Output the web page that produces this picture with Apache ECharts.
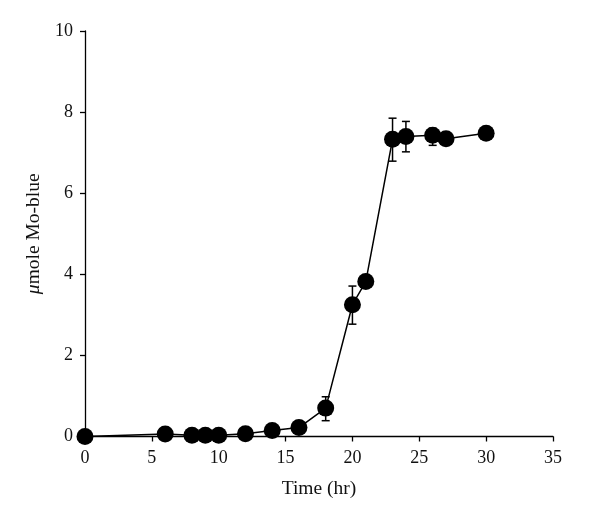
<!DOCTYPE html>
<html>
<head>
<meta charset="utf-8">
<script src="https://cdn.jsdelivr.net/npm/echarts@6/dist/echarts.min.js"></script>
<style>html,body{margin:0;padding:0;background:#fff}#c{width:600px;height:522px}</style>
</head>
<body>
<div id="c"></div>
<script>
const times = [0, 6, 8, 9, 10, 12, 14, 16, 18, 20, 21, 23, 24, 26, 27, 30];
const moBlue = [0, 0.06, 0.03, 0.03, 0.03, 0.07, 0.15, 0.22, 0.7, 3.25, 3.82, 7.33, 7.4, 7.43, 7.34, 7.48];
const errTimes = [18, 20, 23, 24, 26];
const errLow = [0.39, 2.77, 6.79, 7.02, 7.18];
const errHigh = [0.98, 3.71, 7.85, 7.77, 7.6];
const xTicks = [0, 5, 10, 15, 20, 25, 30, 35];
const yTicks = [0, 2, 4, 6, 8, 10];

const chart = echarts.init(document.getElementById('c'), null, {renderer: 'canvas'});
const font = '"Liberation Serif", "DejaVu Serif", serif';
const lineData = times.map((t, i) => [t, moBlue[i]]);
const errData = errTimes.map((t, i) => [t, errLow[i], errHigh[i]]);

chart.setOption({
  backgroundColor: '#fff',
  animation: false,
  grid: {left: 85, right: 47, top: 31, bottom: 85.5},
  xAxis: {
    type: 'value', min: 0, max: 35, interval: 5,
    name: 'Time (hr)', nameLocation: 'middle', nameGap: 42,
    nameTextStyle: {fontFamily: font, fontSize: 19.5, color: '#111'},
    axisLine: {onZero: false, lineStyle: {color: '#000', width: 1.3}},
    axisTick: {show: true, inside: false, length: 5, lineStyle: {color: '#000', width: 1.3}},
    axisLabel: {fontFamily: font, fontSize: 18, color: '#111', margin: 13},
    splitLine: {show: false}
  },
  yAxis: {
    type: 'value', min: 0, max: 10, interval: 2,
    name: '{i|μ}mole Mo-blue', nameLocation: 'middle', nameGap: 40,
    nameTextStyle: {fontFamily: font, fontSize: 19.5, color: '#111',
      rich: {i: {fontFamily: font, fontSize: 19.5, fontStyle: 'italic', color: '#111'}}},
    axisLine: {show: true, lineStyle: {color: '#000', width: 1.3}},
    axisTick: {show: true, inside: false, length: 5, lineStyle: {color: '#000', width: 1.3}},
    axisLabel: {fontFamily: font, fontSize: 18, color: '#111', margin: 12},
    splitLine: {show: false}
  },
  series: [
    {
      type: 'custom',
      data: errData,
      z: 1,
      renderItem: function (params, api) {
        const x = api.value(0);
        const lo = api.coord([x, api.value(1)]);
        const hi = api.coord([x, api.value(2)]);
        const w = 4;
        const st = {stroke: '#000', lineWidth: 1.5};
        return {
          type: 'group',
          children: [
            {type: 'line', shape: {x1: lo[0], y1: lo[1], x2: hi[0], y2: hi[1]}, style: st},
            {type: 'line', shape: {x1: lo[0] - w, y1: lo[1], x2: lo[0] + w, y2: lo[1]}, style: st},
            {type: 'line', shape: {x1: hi[0] - w, y1: hi[1], x2: hi[0] + w, y2: hi[1]}, style: st}
          ]
        };
      }
    },
    {
      type: 'line',
      data: lineData,
      z: 2,
      symbol: 'circle',
      symbolSize: 17,
      showAllSymbol: true,
      lineStyle: {color: '#000', width: 1.5},
      itemStyle: {color: '#000', borderWidth: 0}
    }
  ]
});
</script>
</body>
</html>
